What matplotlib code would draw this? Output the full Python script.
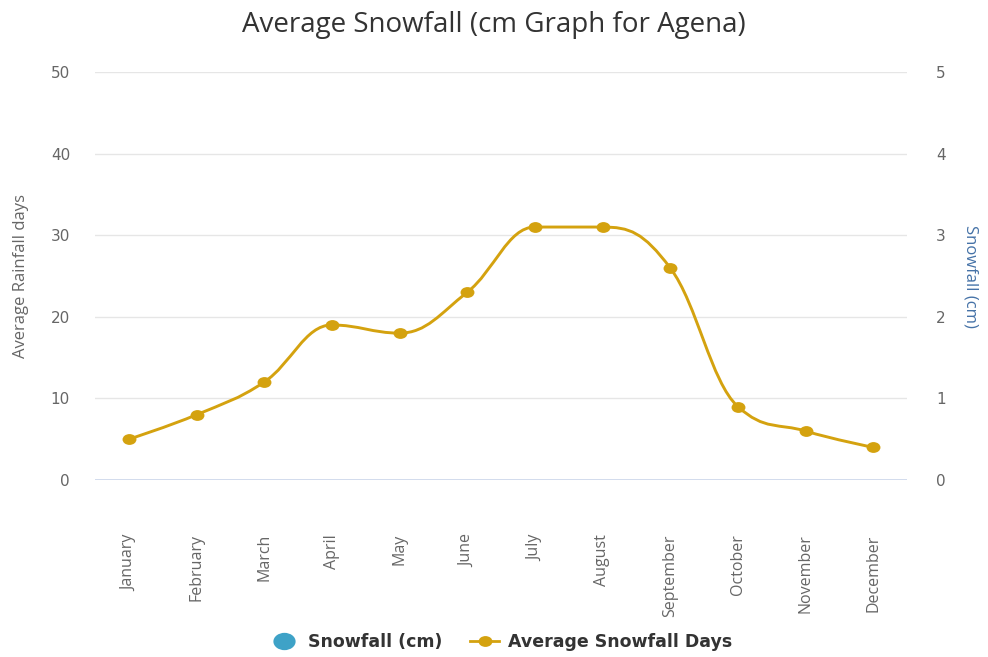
import matplotlib
matplotlib.use("Agg")
import matplotlib.pyplot as plt
from matplotlib.path import Path
from matplotlib.patches import PathPatch
from matplotlib.lines import Line2D

months = ["January", "February", "March", "April", "May", "June", "July",
          "August", "September", "October", "November", "December"]
avg_snowfall_days = [5, 8, 12, 19, 18, 23, 31, 31, 26, 9, 6, 4]
snowfall_cm = [0, 0, 0, 0, 0, 0, 0, 0, 0, 0, 0, 0]
left_ticks = [0, 10, 20, 30, 40, 50]
right_ticks = [0, 1, 2, 3, 4, 5]

LINE_COLOR = "#d4a20f"
SNOW_COLOR = "#3ea2c7"
FONT = "Open Sans"
WIDE = "DejaVu Sans"


def spline_path(xs, ys, smoothing=1.5):
    """Smooth curve through the points using neighbour-based cubic control points."""
    n = len(xs)
    denom = smoothing + 1
    left = [None] * n
    right = [None] * n
    for i in range(1, n - 1):
        px, py = xs[i], ys[i]
        lx, ly = xs[i - 1], ys[i - 1]
        nx, ny = xs[i + 1], ys[i + 1]
        lcx = (smoothing * px + lx) / denom
        lcy = (smoothing * py + ly) / denom
        rcx = (smoothing * px + nx) / denom
        rcy = (smoothing * py + ny) / denom
        corr = 0.0
        if rcx != lcx:
            corr = (rcy - lcy) * (rcx - px) / (rcx - lcx) + py - rcy
        lcy += corr
        rcy += corr
        if lcy > ly and lcy > py:
            lcy = max(ly, py)
            rcy = 2 * py - lcy
        elif lcy < ly and lcy < py:
            lcy = min(ly, py)
            rcy = 2 * py - lcy
        if rcy > ny and rcy > py:
            rcy = max(ny, py)
            lcy = 2 * py - rcy
        elif rcy < ny and rcy < py:
            rcy = min(ny, py)
            lcy = 2 * py - rcy
        left[i] = (lcx, lcy)
        right[i] = (rcx, rcy)
    verts = [(xs[0], ys[0])]
    codes = [Path.MOVETO]
    for i in range(1, n):
        c1 = right[i - 1] if right[i - 1] is not None else (xs[i - 1], ys[i - 1])
        c2 = left[i] if left[i] is not None else (xs[i], ys[i])
        verts += [c1, c2, (xs[i], ys[i])]
        codes += [Path.CURVE4] * 3
    return Path(verts, codes)


# slightly wide elliptical marker
_circ = Path.unit_circle()
ELLIPSE = Path(_circ.vertices * [1.0, 0.78], _circ.codes)

fig = plt.figure(figsize=(9.88, 6.57), dpi=100)
ax = fig.add_axes([95 / 988, 1 - 480 / 657, 812 / 988, 408 / 657])
ax2 = ax.twinx()

x = list(range(len(months)))

# Snowfall columns on the secondary axis
ax2.bar(x, snowfall_cm, width=0.6, color=SNOW_COLOR, linewidth=0, zorder=2)

# Average snowfall days as a smoothed line with markers
patch = PathPatch(spline_path(x, avg_snowfall_days), facecolor="none",
                  edgecolor=LINE_COLOR, linewidth=2.1, zorder=4,
                  capstyle="round", joinstyle="round")
ax.add_patch(patch)
ax.plot(x, avg_snowfall_days, linestyle="none", marker=ELLIPSE, markersize=10,
        color=LINE_COLOR, markeredgewidth=0, zorder=5)
ax.set_zorder(ax2.get_zorder() + 1)
ax.patch.set_visible(False)

ax.set_xlim(-0.5, len(months) - 0.5)
ax.set_ylim(0, 50)
ax2.set_ylim(0, 5)
ax.set_yticks(left_ticks)
ax2.set_yticks(right_ticks)
ax.set_xticks(x)
ax.set_xticklabels(months, rotation=90, fontsize=11.5, color="#666666",
                   family=FONT)
ax.tick_params(axis="x", length=0, pad=39)
ax.tick_params(axis="y", length=0, pad=18, labelsize=11, labelcolor="#666666")
ax2.tick_params(axis="y", length=0, pad=21, labelsize=11, labelcolor="#666666")
for lbl in ax.get_yticklabels() + ax2.get_yticklabels():
    lbl.set_family(WIDE)

ax.grid(axis="y", color="#e6e6e6", linewidth=1)
ax.set_axisbelow(True)
for a in (ax, ax2):
    for side in ("top", "left", "right", "bottom"):
        a.spines[side].set_visible(False)
ax.axhline(0, color="#ccd6eb", linewidth=1.2, zorder=3)

ax.set_ylabel("Average Rainfall days", fontsize=12, color="#666666",
              family=FONT)
ax.yaxis.set_label_coords(-(95 - 29) / 812, 0.5)
ax2.set_ylabel("Snowfall (cm)", fontsize=12, color="#4572a7",
               family=FONT, rotation=270, va="center")
ax2.yaxis.set_label_coords(1 + (971 - 907) / 812, 0.5)

fig.text(0.5, 1 - 25 / 657, "Average Snowfall (cm Graph for Agena)",
         ha="center", va="center", fontsize=20, color="#333333", family=FONT)

handles = [
    Line2D([], [], linestyle="none", marker=ELLIPSE, markersize=16,
           markeredgewidth=0, color=SNOW_COLOR),
    Line2D([], [], color=LINE_COLOR, linewidth=2, marker=ELLIPSE,
           markersize=10, markeredgewidth=0),
]
fig.legend(handles, ["Snowfall (cm)", "Average Snowfall Days"],
           loc="center", bbox_to_anchor=(0.507, 1 - 642 / 657), ncol=2,
           frameon=False, handlelength=1.7, handletextpad=0.5,
           columnspacing=1.6,
           prop={"family": WIDE, "weight": "bold", "size": 12.5},
           labelcolor="#333333")

fig.savefig("out.png", dpi=100)
